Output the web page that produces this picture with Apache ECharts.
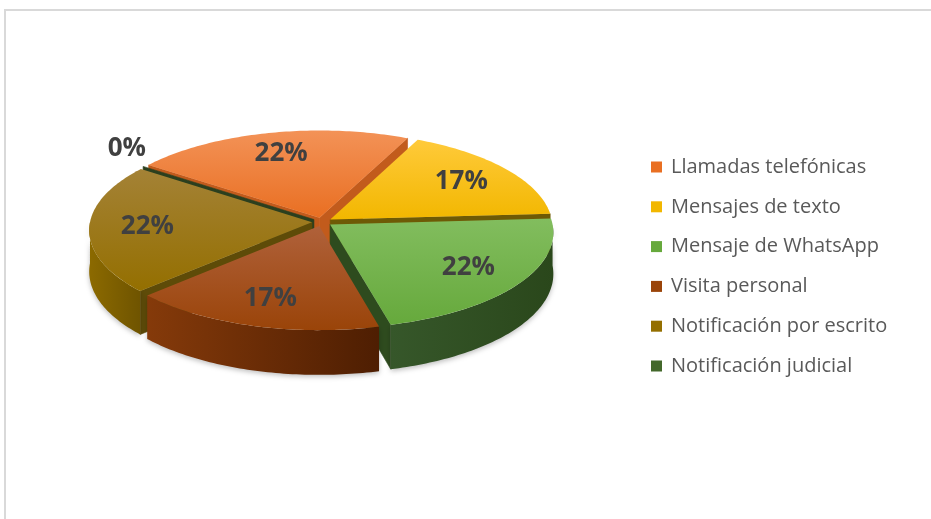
<!DOCTYPE html>
<html>
<head>
<meta charset="utf-8">
<script src="https://cdn.jsdelivr.net/npm/echarts@6/dist/echarts.min.js"></script>
<style>
  html, body { margin: 0; padding: 0; background: #fff; overflow: hidden; }
  #frame { position: absolute; left: 4px; top: 9px; width: 1000px; height: 600px;
           border-left: 2px solid #d9d9d9; border-top: 2px solid #d9d9d9; }
  #chart { position: absolute; left: 0; top: 0; width: 931px; height: 519px; }
</style>
</head>
<body>
<div id="frame"></div>
<div id="chart"></div>
<script>
// Categories and their shares (%)
const categories = [
  'Llamadas telefónicas',
  'Mensajes de texto',
  'Mensaje de WhatsApp',
  'Visita personal',
  'Notificación por escrito',
  'Notificación judicial'
];
const shares = [22, 17, 22, 17, 22, 0];

// Face colours: light top, base, radial wall, outer wall (left, right)
const topLight  = ['#F39257', '#FFCA3A', '#82BD5E', '#B0613A', '#A48236', '#4B7330'];
const topBase   = ['#E96F22', '#F2B700', '#66A93C', '#9A4409', '#946F00', '#43682B'];
const wallSide  = ['#C25B1C', '#6E5A05', '#2E4B1E', '#6A2A05', '#5E4B08', '#2B3F1E'];
const wallOuterL = ['#C9621F', '#B88A00', '#36572A', '#853A0A', '#8C6A00', '#2B3F1E'];
const wallOuterR = ['#A84C12', '#9E7600', '#2A471B', '#4E1E02', '#6F5400', '#2B3F1E'];

// 3D pie geometry (tilted disc with mild perspective)
const CX = 322, CY = 222, RX = 222, RY = 95, H = 41;
const PERSP = 0.08, EXPLODE = 0.045, START = 306, LABEL_R = 0.74;

const total = shares.reduce((a, b) => a + b, 0);
const slices = [];
let acc = START;
shares.forEach((v, i) => {
  const sweep = v / total * 360;
  slices.push({ a0: acc, a1: acc + sweep, mid: acc + sweep / 2 });
  acc += sweep;
});

const rad = d => d * Math.PI / 180;
const dir = t => [Math.sin(rad(t)), -Math.cos(rad(t))];
function proj(u, v, z) {
  const s = 1 / (1 - PERSP * v);
  return [CX + RX * u * s, CY + (RY * v + z) * s];
}

function radialWall(off, t, color) {
  const d = dir(t);
  const pts = [
    proj(off[0], off[1], 0),
    proj(off[0] + d[0], off[1] + d[1], 0),
    proj(off[0] + d[0], off[1] + d[1], H),
    proj(off[0], off[1], H)
  ];
  return { type: 'polygon', shape: { points: pts }, style: { fill: color, stroke: color, lineWidth: 0.6 } };
}

function outerWall(off, t0, t1, i) {
  const top = [], bot = [];
  const n = Math.max(2, Math.ceil((t1 - t0) / 1));
  for (let k = 0; k <= n; k++) {
    const t = t0 + (t1 - t0) * k / n;
    const d = dir(t);
    top.push(proj(off[0] + d[0], off[1] + d[1], 0));
    bot.push(proj(off[0] + d[0], off[1] + d[1], H));
  }
  return {
    type: 'polygon',
    shape: { points: top.concat(bot.reverse()) },
    style: {
      fill: new echarts.graphic.LinearGradient(0, 0, 1, 0, [
        { offset: 0, color: wallOuterL[i] }, { offset: 1, color: wallOuterR[i] }
      ]),
      shadowBlur: 5, shadowColor: 'rgba(0,0,0,0.25)', shadowOffsetY: 2
    }
  };
}

function renderSlice(params, api) {
  const i = params.seriesIndex;
  const s = slices[i];
  const off = dir(s.mid).map(c => c * EXPLODE);
  const children = [];

  // radial walls that face the viewer
  if (-Math.cos(rad(s.a0 - 90)) > 0 || s.a1 === s.a0) children.push(radialWall(off, s.a0, wallSide[i]));
  if (s.a1 > s.a0 && -Math.cos(rad(s.a1 + 90)) > 0) children.push(radialWall(off, s.a1, wallSide[i]));

  // front part of the rim
  [[90, 270], [450, 630]].forEach(r => {
    const t0 = Math.max(s.a0, r[0]), t1 = Math.min(s.a1, r[1]);
    if (t1 > t0) children.push(outerWall(off, t0, t1, i));
  });

  // top face
  if (s.a1 > s.a0) {
    const pts = [proj(off[0], off[1], 0)];
    const n = Math.max(2, Math.ceil(s.a1 - s.a0));
    for (let k = 0; k <= n; k++) {
      const d = dir(s.a0 + (s.a1 - s.a0) * k / n);
      pts.push(proj(off[0] + d[0], off[1] + d[1], 0));
    }
    children.push({
      type: 'polygon',
      shape: { points: pts },
      style: {
        fill: new echarts.graphic.LinearGradient(0, 0, 0, 1, [
          { offset: 0, color: topLight[i] }, { offset: 1, color: topBase[i] }
        ])
      }
    });
  }

  // percentage label
  const val = api.value(0);
  const d = dir(s.mid);
  let lp, vAlign = 'middle';
  if (val > 0) {
    lp = proj(off[0] + d[0] * LABEL_R, off[1] + d[1] * LABEL_R, 0);
  } else {
    lp = proj(off[0] + d[0] * 1.1, off[1] + d[1] * 1.1, 0);
    vAlign = 'bottom';
  }
  children.push({
    type: 'text',
    z2: 100,
    style: {
      x: lp[0], y: lp[1],
      text: Math.round(val) + '%',
      fill: '#404040',
      font: 'bold 26px "Open Sans"',
      textAlign: 'center',
      textVerticalAlign: vAlign
    }
  });

  return { type: 'group', children: children };
}

// back-to-front drawing order by depth of each slice's middle direction
const depthRank = slices.map((s, i) => ({ i, v: dir(s.mid)[1] }))
  .sort((a, b) => a.v - b.v)
  .reduce((m, o, r) => { m[o.i] = r; return m; }, {});

const chart = echarts.init(document.getElementById('chart'), null, { renderer: 'canvas' });
chart.setOption({
  animation: false,
  legend: {
    orient: 'vertical',
    left: 651,
    top: 157,
    padding: 0,
    icon: 'rect',
    itemWidth: 11,
    itemHeight: 11,
    itemGap: 19.8,
    selectedMode: false,
    data: categories,
    textStyle: { fontFamily: 'Open Sans', fontSize: 20, lineHeight: 20, color: '#595959', padding: [0, 0, 0, 4] }
  },
  series: categories.map((name, i) => ({
    type: 'custom',
    name: name,
    coordinateSystem: 'none',
    z: 2 + depthRank[i],
    itemStyle: { color: topBase[i] },
    renderItem: renderSlice,
    data: [[shares[i]]]
  }))
});
</script>
</body>
</html>
